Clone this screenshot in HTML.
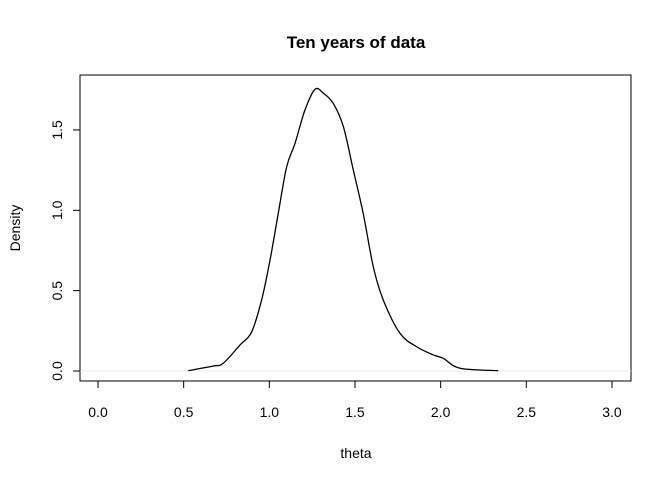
<!DOCTYPE html>
<html><head><meta charset="utf-8"><style>body{margin:0;background:#fff}svg text{font-family:"Liberation Sans",Arial,sans-serif}</style></head>
<body>
<svg id="c" width="672" height="480">
<text x="356" y="48" text-anchor="middle" font-size="17" font-weight="bold">Ten years of data</text>
<text x="356" y="458" text-anchor="middle" font-size="14">theta</text>
<text transform="translate(20,228) rotate(-90)" text-anchor="middle" font-size="14">Density</text>
<rect x="80" y="75" width="551" height="306" fill="none" stroke="#000"/>
<g id="g"></g>
</svg>
<script>
const xs=[0.527,0.673,0.731,0.829,0.897,0.955,1.004,1.052,1.101,1.150,1.208,1.267,1.316,1.373,1.432,1.490,1.548,1.607,1.665,1.763,1.860,1.957,2.015,2.113,2.336];
const ys=[0.002,0.031,0.048,0.162,0.244,0.442,0.690,0.980,1.270,1.417,1.624,1.753,1.728,1.666,1.521,1.251,0.980,0.648,0.442,0.234,0.151,0.100,0.079,0.017,0.002];
const xTicks=[0,0.5,1,1.5,2,2.5,3];
const xLabels=["0.0","0.5","1.0","1.5","2.0","2.5","3.0"];
const yTicks=[0,0.5,1,1.5];
const yLabels=["0.0","0.5","1.0","1.5"];
const X=v=>98+v*171.33, Y=v=>371-v*160.7;
const g=document.getElementById('g'),NS='http://www.w3.org/2000/svg';
function mk(t,a){const e=document.createElementNS(NS,t);for(const k in a)e.setAttribute(k,a[k]);g.appendChild(e);return e;}
let e=mk('line',{x1:80,x2:631,y1:Y(0),y2:Y(0),stroke:'#eee'});


e=mk('line',{x1:X(0),x2:X(3),y1:381,y2:381,stroke:'#000'});


xTicks.forEach((t,i)=>{let l=mk('line',{x1:X(t),x2:X(t),y1:381,y2:388,stroke:'#000'});


let s=mk('text',{x:X(t),y:417,'text-anchor':'middle','font-size':14});s.textContent=xLabels[i];

});
e=mk('line',{x1:80,x2:80,y1:Y(0),y2:Y(1.5),stroke:'#000'});


yTicks.forEach((t,i)=>{let l=mk('line',{x1:73,x2:80,y1:Y(t),y2:Y(t),stroke:'#000'});


let s=mk('text',{transform:`translate(62,${Y(t)}) rotate(-90)`,'text-anchor':'middle','font-size':14});s.textContent=yLabels[i];

});
const P=xs.map((x,i)=>[X(x),Y(ys[i])]);
let d='M'+P[0][0]+','+P[0][1];
for(let i=0;i<P.length-1;i++){const p0=P[Math.max(i-1,0)],p1=P[i],p2=P[i+1],p3=P[Math.min(i+2,P.length-1)];
d+=` C${p1[0]+(p2[0]-p0[0])/6},${p1[1]+(p2[1]-p0[1])/6} ${p2[0]-(p3[0]-p1[0])/6},${p2[1]-(p3[1]-p1[1])/6} ${p2[0]},${p2[1]}`;}
const p=mk('path',{d:d,fill:'none',stroke:'#000','stroke-width':1.3});


</script>
</body></html>
